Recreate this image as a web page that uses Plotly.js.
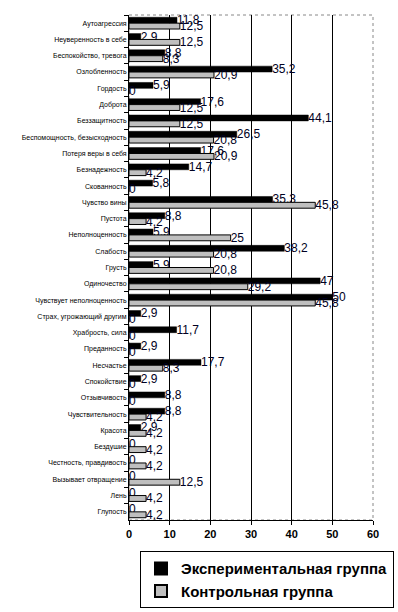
<!DOCTYPE html>
<html><head><meta charset="utf-8">
<script src="https://cdn.plot.ly/plotly-3.0.1.min.js"></script>
<style>html,body{margin:0;padding:0;background:#fff;}</style>
</head><body>
<div id="chart" style="width:398px;height:612px;"></div>
<script>
const categories = [
  "Аутоагрессия","Неуверенность в себе","Беспокойство, тревога","Озлобленность","Гордость",
  "Доброта","Беззащитность","Беспомощность, безысходность","Потеря веры в себя","Безнадежность",
  "Скованность","Чувство вины","Пустота","Неполноценность","Слабость",
  "Грусть","Одиночество","Чувствует неполноценность","Страх, угрожающий другим","Храбрость, сила",
  "Преданность","Несчастье","Спокойствие","Отзывчивость","Чувствительность",
  "Красота","Бездушие","Честность, правдивость","Вызывает отвращение","Лень","Глупость"
];
const experimental = [11.8,2.9,8.8,35.2,5.9,17.6,44.1,26.5,17.6,14.7,5.8,35.3,8.8,5.9,38.2,5.9,47,50,2.9,11.7,2.9,17.7,2.9,8.8,8.8,2.9,0,0,0,0,0];
const control = [12.5,12.5,8.3,20.9,0,12.5,12.5,20.8,20.9,4.2,0,45.8,4.2,25,20.8,20.8,29.2,45.8,0,0,0,8.3,0,0,4.2,4.2,4.2,4.2,12.5,4.2,4.2];
const xTicks = [0,10,20,30,40,50,60];
const seriesNames = ["Экспериментальная группа","Контрольная группа"];

const fmt = v => String(v).replace('.', ',');
const textFont = {family:"Arial, Liberation Sans", size:12, color:"#000022"};

const traces = [
  {type:'bar', orientation:'h', name:seriesNames[0], y:categories, x:experimental,
   text:experimental.map(fmt), textposition:'outside', constraintext:'none', textfont:textFont, cliponaxis:false,
   marker:{color:'#000000', line:{color:'#000000', width:0.5}}},
  {type:'bar', orientation:'h', name:seriesNames[1], y:categories, x:control,
   text:control.map(fmt), textposition:'outside', constraintext:'none', textfont:textFont, cliponaxis:false,
   marker:{color:'#cccccc', line:{color:'#000000', width:1},
           pattern:{shape:'.', bgcolor:'#dddddd', fgcolor:'#999999', size:2, solidity:0.5}}}
];

const layout = {
  width:398, height:612,
  margin:{l:129, r:25, t:15, b:92, autoexpand:false},
  paper_bgcolor:'#ffffff', plot_bgcolor:'#ffffff',
  barmode:'group', bargap:0.28, bargroupgap:0,
  font:{family:"Arial, Liberation Sans", color:'#000'},
  xaxis:{range:[0,60], tickvals:xTicks, ticktext:xTicks.map(String), ticks:'outside', ticklen:4,
         tickcolor:'#000', showgrid:true, gridcolor:'#000000', gridwidth:1, zeroline:false,
         showline:true, linecolor:'#000', linewidth:1, automargin:false,
         tickfont:{family:"Arial, Liberation Sans", size:11, color:'#000', weight:'bold'}},
  yaxis:{autorange:'reversed', type:'category', ticks:'outside', ticklen:4, tickcolor:'#000',
         tickson:'boundaries', showline:true, linecolor:'#000', linewidth:1, showgrid:false, automargin:false,
         tickfont:{family:"Arial, Liberation Sans", size:7, color:'#000'}},
  shapes:[{type:'rect', xref:'paper', yref:'paper', x0:0, x1:1, y0:0, y1:1,
           line:{color:'#888', width:1, dash:'dot'}, layer:'below'}],
  showlegend:true,
  legend:{x:0.045, y:-0.062, xanchor:'left', yanchor:'top', bgcolor:'#fff',
          bordercolor:'#000', borderwidth:1, traceorder:'normal', itemwidth:30,
          font:{family:"Arial, Liberation Sans", size:15, color:'#000', weight:'bold'},
          itemsizing:'constant', tracegroupgap:2}
};

Plotly.newPlot('chart', traces, layout, {displayModeBar:false, staticPlot:true});
</script>
</body></html>
